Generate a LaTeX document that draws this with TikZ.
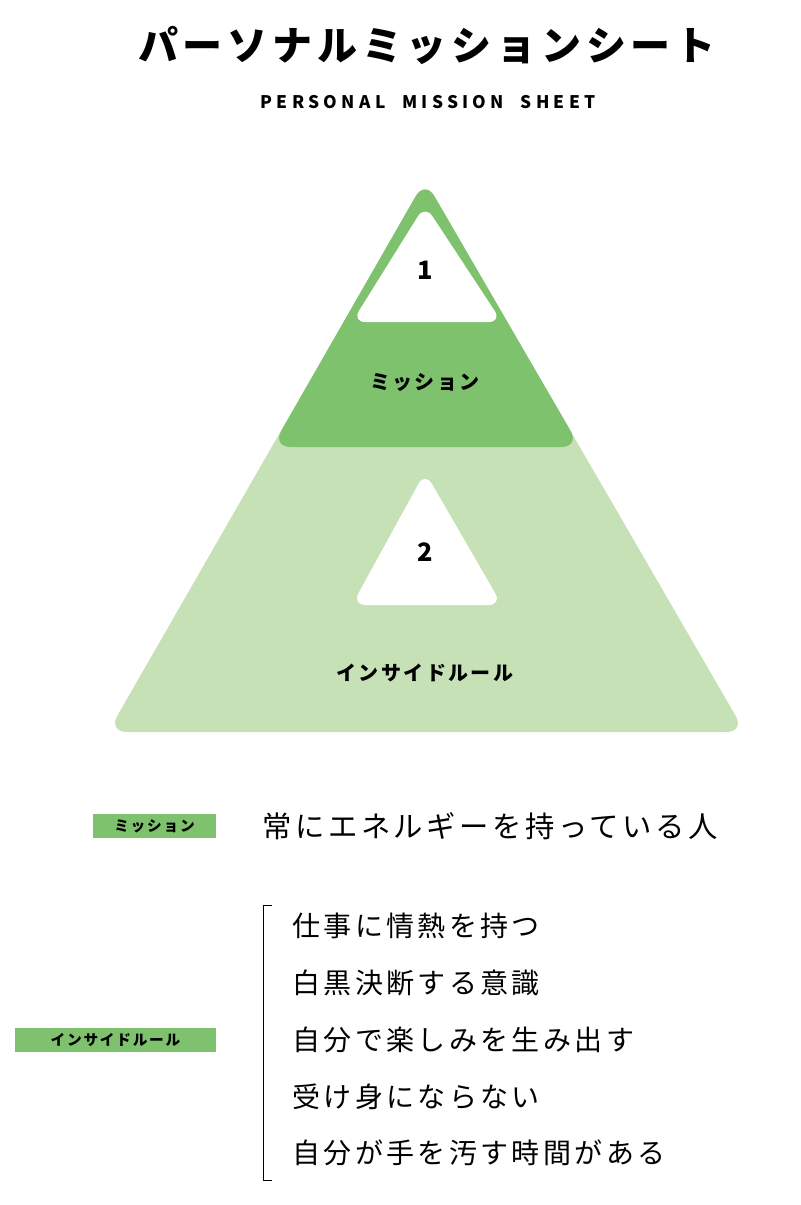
\documentclass[tikz,border=0pt]{standalone}
\usepackage{fontspec}
\newfontfamily\jp[LetterSpace=12]{Noto Sans CJK JP}
\newfontfamily\jpw[LetterSpace=25]{Noto Sans CJK JP}
\definecolor{lightgreen}{RGB}{199,225,183}
\definecolor{darkgreen}{RGB}{127,194,110}
\tikzset{every picture/.style={line width=0.75pt}}
\tikzset{
  tag/.style={fill=darkgreen,inner sep=0pt,minimum height=18pt,font=\jp\bfseries\fontsize{11}{11}\selectfont},
  rule/.style={anchor=west,font=\jp\fontsize{21}{21}\selectfont,inner sep=0pt},
  pyr/.style={font=\jp\bfseries\fontsize{15}{15}\selectfont,inner sep=0pt}
}
\begin{document}
\begin{tikzpicture}[x=0.75pt,y=0.75pt,yscale=-1,xscale=1]
\useasboundingbox (0,0) rectangle (800,1205);

%Title
\node (title) at (427,45) [font=\jp\bfseries\fontsize{30}{30}\selectfont] {パーソナルミッションシート};
\node (subtitle) at (428,102) [font=\jpw\bfseries\fontsize{13}{13}\selectfont] {PERSONAL\ \ MISSION\ \ SHEET};

%Pyramid
\fill [lightgreen,rounded corners=14] (425,180) -- (745,732) -- (108,732) -- cycle ;
\fill [darkgreen,rounded corners=14] (425,180) -- (580,447) -- (272,447) -- cycle ;
\fill [white,rounded corners=10] (425,205) -- (502,322) -- (352,322) -- cycle ;
\fill [white,rounded corners=10] (425,472) -- (502,605) -- (352,605) -- cycle ;

\node (one) at (425,270) [pyr,font=\jp\bfseries\fontsize{19}{19}\selectfont] {1};
\node (mission) at (425,382) [pyr] {ミッション};
\node (two) at (425,552) [pyr,font=\jp\bfseries\fontsize{19}{19}\selectfont] {2};
\node (inside) at (425,673) [pyr] {インサイドルール};

%Mission
\node (missiontag) at (154.5,826) [tag,minimum width=92pt] {ミッション};
\node (missiontext) at (262,826) [rule,font=\jp\fontsize{22}{22}\selectfont] {常にエネルギーを持っている人};

%Inside rules
\node (insidetag) at (115.5,1040) [tag,minimum width=151pt] {インサイドルール};
\draw [line width=0.6pt] (272,905) -- (263,905) -- (263,1180) -- (272,1180) ;
\foreach \t [count=\i] in {仕事に情熱を持つ,白黒決断する意識,自分で楽しみを生み出す,受け身にならない,自分が手を汚す時間がある}
  \node (rule\i) at (292,926+56.8*\i-56.8) [rule] {\t};

\end{tikzpicture}
\end{document}
